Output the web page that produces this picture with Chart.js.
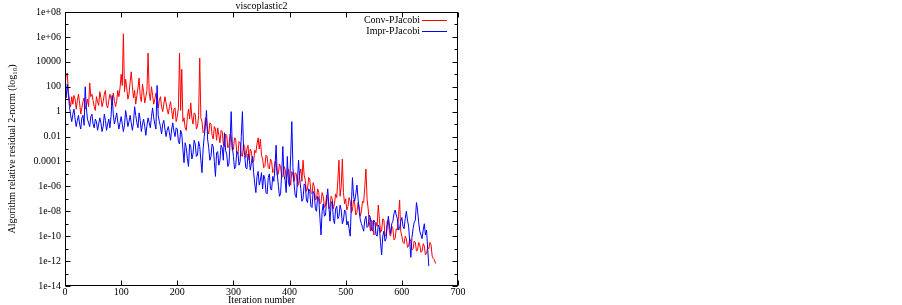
<!DOCTYPE html>
<html>
<head>
  <title>viscoplastic2</title>
  <style>
    body {
      margin: 0;
      background: #fff;
    }
  </style>
</head>
<body>
  <canvas id="residualChart" width="902" height="305"></canvas>

  <script src="https://cdn.jsdelivr.net/npm/chart.js"></script>
  <script>
    // residuals as log10 values, every 2 iterations
    const STEP = 2;

    const convLog10 = [
      2.2, 2.9, 3.1, 1.6, 0.9, 0.4, 1.2, 0.6, 1.3, 1.0, 0.2, 0.9, 1.4, 0.7, -0.2, 0.3, 0.8, 1.1, 0.2, 0.5, 1.0, 0.4, 2.3, 1.2, 1.4,
      0.9, 0.4, 0.1, 1.2, 0.8, 0.5, 1.6, 1.1, 0.4, 0.8, 1.4, 1.7, 0.5, 0.3, 0.9, 1.4, 1.0, 0.5, 1.5, 0.9, 0.4, 0.8, 1.7, 1.2, 1.9,
      3.0, 2.1, 6.25, 1.6, 2.6, 1.9, 1.0, 1.4, 2.4, 3.2, 2.0, 1.1, 1.7, 0.6, 1.3, 1.9, 2.7, 1.2, 0.8, 2.2, 1.6, 0.7, 1.2, 1.7, 4.7,
      1.5, 0.9, 2.0, 1.3, 0.6, 1.0, 1.5, 0.8, 0.3, 0.9, 1.2, 0.4, 0.0, 0.6, 1.2, 0.7, 0.2, -0.2, 0.4, 0.8, 0.1, -0.6, 0.2, 0.3, -0.8,
      -0.4, 0.3, 4.7, 0.1, 3.4, -0.8, -0.5, -1.3, -1.5, -0.4, 0.2, -0.6, 0.7, -0.5, -1.0, -0.1, -0.2, -1.4, -1.2, -0.3, 4.3, -0.5, -0.8, -1.7, -1.6,
      -0.5, -0.6, -1.5, -1.8, -0.9, -1.0, -1.9, -2.2, -1.2, -1.4, -2.3, -1.3, -1.9, -2.5, -1.5, -1.6, -2.6, -2.8, -1.8, -1.9, -2.9, -2.7, -1.8, -2.0, -3.1,
      -3.0, -2.1, -2.2, -3.3, -3.4, -2.4, -2.5, -3.5, -3.6, -2.6, -2.8, -3.7, -3.0, -2.7, -3.9, -3.0, -3.2, -4.1, -4.0, -3.1, -3.3, -2.6, -2.1, -3.0, -2.2,
      -3.5, -3.8, -4.5, -4.4, -3.5, -3.6, -4.5, -4.6, -3.8, -4.0, -4.9, -4.8, -4.0, -4.2, -5.1, -5.0, -4.2, -4.4, -5.3, -5.2, -4.4, -4.6, -5.4, -5.0, -4.6,
      -5.4, -5.9, -4.8, -5.1, -5.6, -4.9, -5.0, -6.0, -5.8, -5.0, -4.6, -5.6, -3.9, -5.1, -5.5, -6.4, -6.2, -5.3, -5.4, -6.5, -6.6, -5.7, -6.0, -7.1, -7.0,
      -6.2, -6.5, -7.4, -7.3, -6.5, -6.8, -7.7, -7.5, -6.7, -6.9, -7.8, -7.6, -6.8, -7.0, -7.8, -7.4, -6.6, -6.9, -5.5, -3.9, -6.8, -6.0, -3.8, -6.5, -7.4,
      -7.0, -7.9, -7.6, -6.9, -7.2, -8.1, -7.9, -7.1, -7.4, -8.3, -8.1, -7.3, -7.6, -8.4, -8.0, -7.2, -7.3, -6.0, -4.6, -7.0, -7.8, -8.8, -9.6, -8.7, -8.9,
      -9.9, -9.8, -8.9, -9.2, -7.5, -8.6, -9.7, -9.5, -8.6, -8.7, -10.0, -9.9, -8.8, -8.7, -9.8, -10.0, -9.2, -9.4, -10.3, -10.2, -9.4, -9.5, -8.4, -7.1, -9.6,
      -10.0, -10.5, -10.6, -10.0, -10.2, -10.9, -10.8, -10.2, -10.4, -11.1, -11.0, -10.4, -10.5, -11.2, -11.1, -10.5, -10.7, -11.3, -11.2, -10.6, -10.8, -11.5, -11.4, -10.9, -11.0,
      -10.5, -10.7, -11.6, -11.8, -11.9, -12.2
    ];

    const imprLog10 = [
      1.8, 1.1, 2.2, 1.4, 0.4, -0.3, -0.8, -0.2, 0.2, -0.6, -1.2, -0.7, -0.3, -1.0, -1.4, -0.5, -0.3, -1.1, 2.0, 0.3, -0.6, -0.9, -1.2, -0.4, -0.2,
      -1.0, -1.3, -0.6, -0.8, -1.5, -1.0, -0.5, -0.9, -1.6, -1.2, -0.2, -0.7, -1.5, -1.0, -0.6, -1.3, -0.4, 1.3, -0.2, -1.0, -0.6, -0.1, -0.8, -1.4, -0.9,
      -0.4, -1.0, -1.6, -1.1, 0.1, -0.5, -1.2, -0.8, -0.3, -0.9, -1.5, -0.9, 0.4, -0.3, -0.9, -1.3, -0.1, -0.7, -1.6, -1.0, -0.6, -1.2, -1.9, -1.1, -0.5,
      -0.9, -1.3, -0.4, 0.3, -0.5, -1.0, -1.4, 2.1, -0.3, -0.8, -1.2, -1.8, -1.0, -0.7, -1.4, -2.0, -1.5, -1.2, -1.7, -2.3, -1.4, -0.9, -1.6, -2.0, -1.3,
      -1.4, -2.4, -2.6, -1.5, -1.8, -3.0, -4.1, -2.5, -2.9, -3.8, -4.4, -2.6, -2.8, -3.8, -3.4, -2.3, -2.6, -3.6, -3.5, -2.4, -2.8, -3.9, -4.9, -3.0, -2.0,
      -1.2, 0.1, -2.2, -2.9, -3.9, -3.6, -2.6, -2.8, -4.0, -5.2, -3.3, -3.2, -4.3, -3.9, -2.7, -2.9, -3.9, -1.7, -3.1, -3.4, -4.4, -4.2, -2.5, 0.0, -2.8,
      -3.6, -4.6, -4.4, -3.2, -3.3, -4.3, -4.0, -2.0, 0.0, -2.9, -3.5, -4.5, -4.6, -3.4, -3.7, -4.7, -4.1, -3.6, -4.9, -5.8, -6.5, -5.2, -4.8, -5.9, -5.5,
      -4.9, -6.2, -5.1, -5.4, -6.5, -6.6, -5.3, -5.0, -6.2, -6.3, -5.2, -5.6, -4.5, -2.7, -5.0, -5.9, -6.8, -6.6, -4.9, -2.8, -5.1, -5.5, -6.5, -3.6, -5.7,
      -6.0, -3.5, -0.8, -4.5, -5.8, -6.7, -6.9, -5.6, -3.9, -5.4, -6.2, -7.2, -7.0, -5.8, -5.9, -7.1, -7.3, -6.2, -6.4, -7.6, -7.7, -6.4, -6.6, -7.8, -8.0,
      -6.8, -7.0, -8.5, -9.9, -8.0, -7.4, -8.4, -8.3, -7.0, -6.2, -7.6, -8.8, -7.4, -7.2, -8.6, -9.0, -7.8, -7.6, -8.6, -8.4, -7.5, -7.9, -9.0, -8.7, -7.9,
      -8.0, -9.1, -8.8, -9.4, -10.0, -7.6, -5.3, -6.8, -7.2, -6.6, -5.9, -7.0, -8.0, -8.7, -9.0, -9.3, -9.6, -8.7, -8.4, -9.3, -9.2, -8.3, -8.5, -9.5, -9.6,
      -8.7, -8.9, -9.9, -10.0, -9.1, -9.3, -10.5, -11.5, -10.0, -9.6, -10.4, -10.2, -9.1, -8.4, -9.2, -9.8, -9.0, -8.8, -8.2, -7.9, -8.3, -8.6, -9.5, -9.4, -8.8,
      -8.5, -9.2, -9.4, -8.6, -8.0, -8.7, -9.2, -10.4, -11.7, -10.1, -9.4, -8.9, -8.7, -7.3, -7.9, -8.9, -9.6, -9.9, -10.2, -9.5, -9.0, -9.9, -9.5, -11.0, -12.4
    ];

    const yTickValues = [8, 6, 4, 2, 0, -2, -4, -6, -8, -10, -12, -14];
    const yTickLabels = ['1e+08', '1e+06', '10000', '100', '1', '0.01', '0.0001', '1e-06', '1e-08', '1e-10', '1e-12', '1e-14'];
    const xTickValues = [0, 100, 200, 300, 400, 500, 600, 700];

    const seriesNames = ['Conv-PJacobi', 'Impr-PJacobi'];
    const seriesColors = ['rgb(255, 0, 0)', 'rgb(0, 0, 255)'];

    const toPoints = (arr) => arr.map((v, i) => ({ x: i * STEP, y: v }));

    const FONT = 'Liberation Serif';

    // gnuplot style: box frame, inward ticks on all sides, legend with line sample on the right
    const gnuplotFrame = {
      id: 'gnuplotFrame',
      afterDatasetsDraw(chart) {
        const { ctx, chartArea: a, scales } = chart;
        const L = Math.round(a.left) + 0.5, R = Math.round(a.right) - 0.5;
        const T = Math.round(a.top) + 0.5, B = Math.round(a.bottom) - 0.5;
        ctx.save();
        ctx.strokeStyle = '#000';
        ctx.lineWidth = 1;
        ctx.strokeRect(L, T, R - L, B - T);

        ctx.beginPath();
        scales.y.ticks.forEach(t => {
          const py = Math.round(scales.y.getPixelForValue(t.value)) + 0.5;
          const len = yTickValues.includes(t.value) ? 5 : 3;
          ctx.moveTo(L, py); ctx.lineTo(L + len, py);
          ctx.moveTo(R, py); ctx.lineTo(R - len, py);
        });
        scales.x.ticks.forEach(t => {
          const px = Math.round(scales.x.getPixelForValue(t.value)) + 0.5;
          ctx.moveTo(px, B); ctx.lineTo(px, B - 5);
          ctx.moveTo(px, T); ctx.lineTo(px, T + 5);
        });
        ctx.stroke();

        ctx.font = '10px "' + FONT + '"';
        ctx.textAlign = 'right';
        ctx.textBaseline = 'middle';
        ctx.fillStyle = '#000';
        const rows = [20, 31];
        seriesNames.forEach((name, i) => {
          ctx.fillText(name, a.right - 38, rows[i]);
          ctx.strokeStyle = seriesColors[i];
          ctx.beginPath();
          ctx.moveTo(a.right - 36, rows[i] + 0.5);
          ctx.lineTo(a.right - 11, rows[i] + 0.5);
          ctx.stroke();
        });
        ctx.restore();
      }
    };

    const ctx = document.getElementById('residualChart').getContext('2d');
    new Chart(ctx, {
      type: 'line',
      data: {
        datasets: [
          {
            label: seriesNames[0],
            data: toPoints(convLog10),
            borderColor: seriesColors[0],
            borderWidth: 1,
            pointRadius: 0,
            tension: 0,
            order: 1
          },
          {
            label: seriesNames[1],
            data: toPoints(imprLog10),
            borderColor: seriesColors[1],
            borderWidth: 1,
            pointRadius: 0,
            tension: 0,
            order: 0
          }
        ]
      },
      options: {
        responsive: false,
        animation: false,
        layout: { padding: { left: 0, right: 444, top: 0, bottom: 0 } },
        plugins: {
          legend: { display: false },
          tooltip: { enabled: false },
          title: {
            display: true,
            text: 'viscoplastic2',
            fullSize: false,
            color: '#000',
            font: { family: FONT, size: 10, weight: 'normal', lineHeight: 1.2 },
            padding: { top: 0, bottom: 0 }
          }
        },
        scales: {
          x: {
            type: 'linear',
            min: 0,
            max: 700,
            afterBuildTicks: (s) => { s.ticks = xTickValues.map(v => ({ value: v })); },
            grid: { display: false, drawTicks: false },
            border: { display: false },
            ticks: {
              color: '#000',
              padding: 0,
              maxRotation: 0,
              font: { family: FONT, size: 10 }
            },
            title: {
              display: true,
              text: 'Iteration number',
              color: '#000',
              font: { family: FONT, size: 10, lineHeight: 1.0 },
              padding: 0
            },
            afterFit: (s) => { s.height = 19; }
          },
          y: {
            type: 'linear',
            min: -14,
            max: 8,
            ticks: {
              stepSize: 1,
              autoSkip: false,
              color: '#000',
              padding: 4,
              font: { family: FONT, size: 10 },
              callback: (v) => {
                const k = yTickValues.indexOf(v);
                return k >= 0 ? yTickLabels[k] : '';
              }
            },
            grid: { display: false, drawTicks: false },
            border: { display: false },
            title: {
              display: true,
              text: 'Algorithm relative residual 2-norm (log\u2081\u2080)',
              color: '#000',
              font: { family: FONT, size: 10, lineHeight: 1.2 },
              padding: { top: 6, bottom: 0 }
            },
            afterFit: (s) => { s.width = 65; }
          }
        }
      },
      plugins: [gnuplotFrame]
    });
  </script>
</body>
</html>
